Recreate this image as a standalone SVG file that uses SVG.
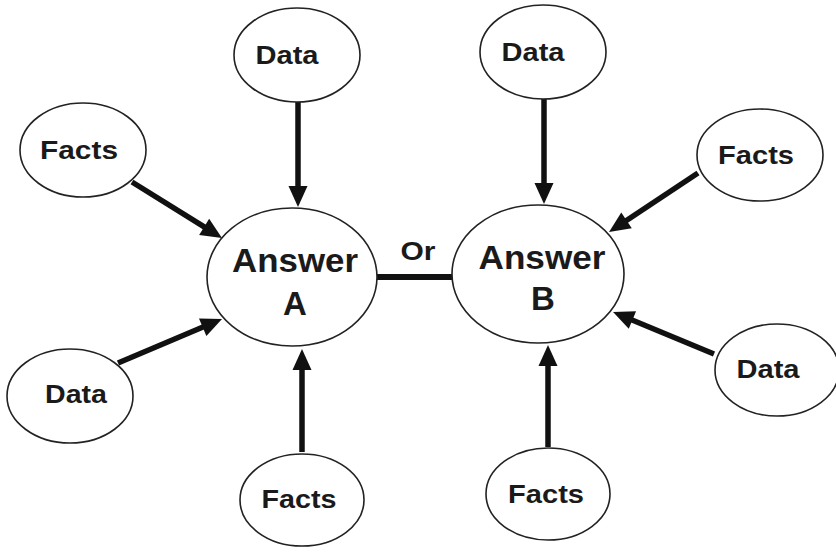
<svg xmlns="http://www.w3.org/2000/svg" width="836" height="552" viewBox="0 0 836 552">
<defs>
<style>
.node ellipse{fill:#fff;stroke:#222;stroke-width:1.6}
.lbl{font-family:"Liberation Sans",Arial,sans-serif;font-weight:bold;fill:#1a1a1a;text-anchor:middle}
.small{font-size:26px}
.big{font-size:33px}
.conn line{stroke:#111;stroke-width:5.5}
</style>
<marker id="ah" markerUnits="userSpaceOnUse" markerWidth="22" markerHeight="20" refX="0" refY="0" viewBox="0 -10 22 20" orient="auto" overflow="visible">
<path d="M-1,-9.5 L20,0 L-1,9.5 z" fill="#111"/>
</marker>
</defs>
<rect width="836" height="552" fill="#fff"/>
<g id="connectors" class="conn">
<line x1="298" y1="102" x2="298" y2="187" marker-end="url(#ah)"/>
<line x1="132" y1="182" x2="205" y2="227.4" marker-end="url(#ah)"/>
<line x1="118" y1="363" x2="203.6" y2="326.8" marker-end="url(#ah)"/>
<line x1="302" y1="452" x2="302" y2="369" marker-end="url(#ah)"/>
<line x1="544" y1="98" x2="544" y2="184" marker-end="url(#ah)"/>
<line x1="698" y1="173" x2="625.7" y2="221" marker-end="url(#ah)"/>
<line x1="714" y1="354" x2="631.5" y2="319.7" marker-end="url(#ah)"/>
<line x1="548" y1="447" x2="548" y2="365" marker-end="url(#ah)"/>
<line x1="377" y1="277" x2="453" y2="277" style="stroke-width:6"/>
</g>
<text class="lbl" x="418" y="260" font-size="25" style="font-size:25px" textLength="35" lengthAdjust="spacingAndGlyphs">Or</text>
<g id="answerA" class="node">
<ellipse cx="292" cy="277" rx="85" ry="69"/>
<text class="lbl big" x="295" y="272" textLength="126" lengthAdjust="spacingAndGlyphs">Answer</text>
<text class="lbl big" x="295" y="315">A</text>
</g>
<g id="answerB" class="node">
<ellipse cx="538" cy="274" rx="86" ry="69"/>
<text class="lbl big" x="542" y="269" textLength="127" lengthAdjust="spacingAndGlyphs">Answer</text>
<text class="lbl big" x="543" y="310">B</text>
</g>
<g id="dataTL" class="node">
<ellipse cx="297" cy="55" rx="63" ry="47"/>
<text class="lbl small" x="287" y="64" textLength="63" lengthAdjust="spacingAndGlyphs">Data</text>
</g>
<g id="factsL" class="node">
<ellipse cx="83" cy="150" rx="63" ry="47"/>
<text class="lbl small" x="79" y="159" textLength="78" lengthAdjust="spacingAndGlyphs">Facts</text>
</g>
<g id="dataBL" class="node">
<ellipse cx="70" cy="396" rx="63" ry="47"/>
<text class="lbl small" x="76" y="403" textLength="62" lengthAdjust="spacingAndGlyphs">Data</text>
</g>
<g id="factsBL" class="node">
<ellipse cx="302" cy="500" rx="62" ry="46"/>
<text class="lbl small" x="299" y="508" textLength="75" lengthAdjust="spacingAndGlyphs">Facts</text>
</g>
<g id="dataTR" class="node">
<ellipse cx="543" cy="52" rx="63" ry="47"/>
<text class="lbl small" x="533" y="61" textLength="63" lengthAdjust="spacingAndGlyphs">Data</text>
</g>
<g id="factsR" class="node">
<ellipse cx="760" cy="155" rx="63" ry="46"/>
<text class="lbl small" x="756" y="164" textLength="76" lengthAdjust="spacingAndGlyphs">Facts</text>
</g>
<g id="dataR" class="node">
<ellipse cx="777" cy="370" rx="62" ry="46"/>
<text class="lbl small" x="768" y="378" textLength="63" lengthAdjust="spacingAndGlyphs">Data</text>
</g>
<g id="factsBR" class="node">
<ellipse cx="548" cy="494" rx="62" ry="46"/>
<text class="lbl small" x="546" y="503" textLength="76" lengthAdjust="spacingAndGlyphs">Facts</text>
</g>
</svg>
